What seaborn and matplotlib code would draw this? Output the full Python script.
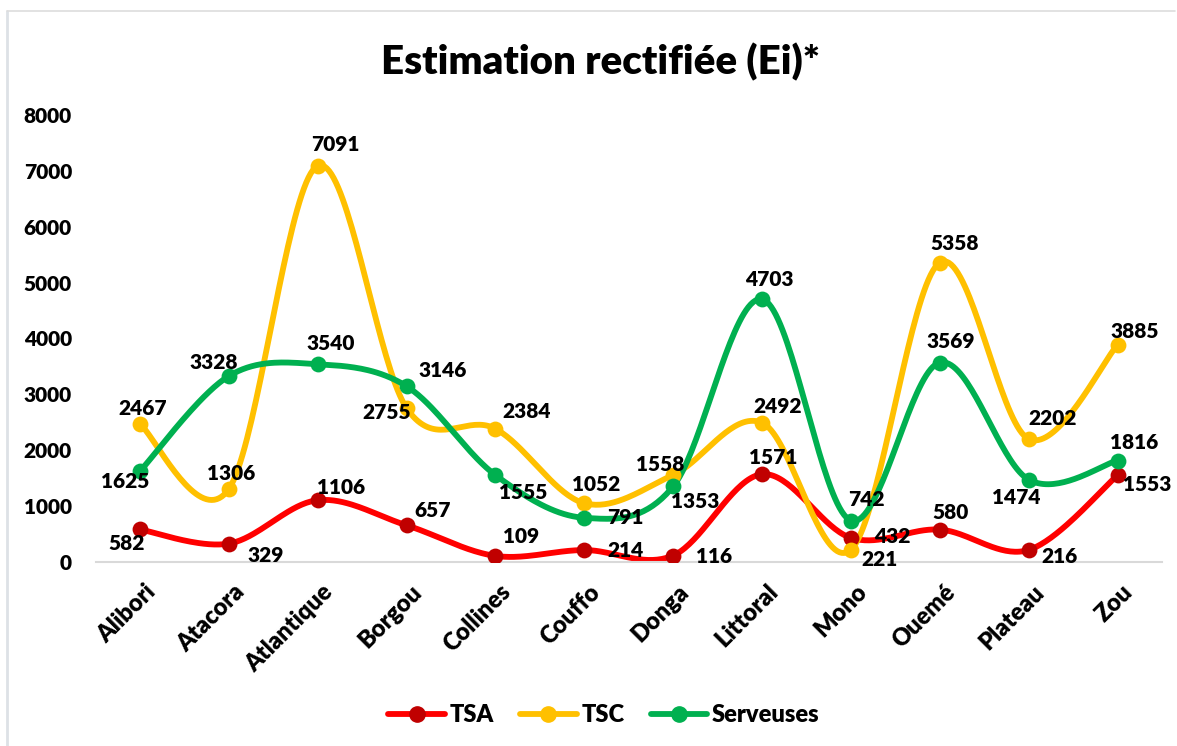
import numpy as np
import pandas as pd
import matplotlib
matplotlib.use("Agg")
import matplotlib.pyplot as plt
import matplotlib.transforms as mtransforms
from matplotlib.lines import Line2D
import seaborn as sns

# data
departements = ["Alibori", "Atacora", "Atlantique", "Borgou", "Collines", "Couffo",
                "Donga", "Littoral", "Mono", "Ouemé", "Plateau", "Zou"]
tsa = [582, 329, 1106, 657, 109, 214, 116, 1571, 432, 580, 216, 1553]
tsc = [2467, 1306, 7091, 2755, 2384, 1052, 1558, 2492, 221, 5358, 2202, 3885]
serveuses = [1625, 3328, 3540, 3146, 1555, 791, 1353, 4703, 742, 3569, 1474, 1816]

series = {"TSA": tsa, "TSC": tsc, "Serveuses": serveuses}
line_colors = {"TSA": "#FF0000", "TSC": "#FFC000", "Serveuses": "#00B050"}
marker_colors = {"TSA": "#C00000", "TSC": "#FFC000", "Serveuses": "#00B050"}

# label offsets in pixels (dx, dy), one per point
label_offsets = {
    "TSA": [(-13, -14), (37, -12), (23, 13), (26, 15), (26, 19), (41, 0),
            (41, -1), (11, 17), (41, 1), (11, 17), (31, -7), (30, -9)],
    "TSC": [(3, 16), (2, 16), (18, 21), (-20, -4), (31, 17), (12, 19),
            (-13, 10), (16, 16), (29, -10), (15, 19), (24, 20), (17, 13)],
    "Serveuses": [(-15, -10), (-15, 14), (13, 21), (36, 16), (28, -17), (41, 0),
                  (22, -15), (7, 20), (15, 21), (11, 21), (-12, -18), (17, 18)],
}

WEIGHT = "heavy"


def smooth_curve(y, steps=40):
    """Excel-like smoothed line (cubic Bezier, Catmull-Rom control points)."""
    y = np.asarray(y, dtype=float)
    x = np.arange(len(y), dtype=float)
    pts = np.column_stack([x, y])
    ext = np.vstack([pts[0], pts, pts[-1]])
    out = []
    for i in range(len(pts) - 1):
        p0, p1, p2, p3 = ext[i], ext[i + 1], ext[i + 2], ext[i + 3]
        c1 = p1 + (p2 - p0) / 6.0
        c2 = p2 - (p3 - p1) / 6.0
        t = np.linspace(0, 1, steps)[:, None]
        seg = ((1 - t) ** 3) * p1 + 3 * ((1 - t) ** 2) * t * c1 + 3 * (1 - t) * t ** 2 * c2 + t ** 3 * p2
        out.append(seg if i == 0 else seg[1:])
    out = np.vstack(out)
    return out[:, 0], out[:, 1]


sns.set_theme(style="white")
plt.rcParams["font.family"] = ["Lato", "DejaVu Sans"]
plt.rcParams["font.weight"] = WEIGHT
plt.rcParams["text.color"] = "black"
plt.rcParams["xtick.color"] = "black"
plt.rcParams["ytick.color"] = "black"

fig = plt.figure(figsize=(11.77, 7.46), dpi=100)
ax = fig.add_axes([95.5 / 1177, 184 / 746, (1162 - 95.5) / 1177, (562 - 115) / 746])

x_pos = np.arange(len(departements))
rows = []
for name, vals in series.items():
    sx, sy = smooth_curve(vals)
    ax.plot(sx, sy, color=line_colors[name], lw=4.2, solid_capstyle="round", zorder=2)
    for i, (d, v) in enumerate(zip(departements, vals)):
        rows.append({"dep": d, "x": i, "val": v, "serie": name})
df = pd.DataFrame(rows)

for name in series:
    sub = df[df["serie"] == name]
    sns.scatterplot(data=sub, x="x", y="val", ax=ax, color=marker_colors[name],
                    s=130, linewidth=0, zorder=3, legend=False)

for name, vals in series.items():
    for i, v in enumerate(vals):
        dx, dy = label_offsets[name][i]
        ax.annotate(str(v), (i, v), xytext=(dx, dy), textcoords="offset pixels",
                    ha="center", va="center", fontsize=15, fontweight=WEIGHT,
                    color="black", zorder=4, annotation_clip=False)

ax.set_xlim(-0.5, len(departements) - 0.5)
ax.set_ylim(0, 8000)
ax.set_yticks(range(0, 8001, 1000))
ax.set_yticklabels([str(v) for v in range(0, 8001, 1000)], fontsize=15, fontweight=WEIGHT)
ax.tick_params(axis="y", length=0, pad=17)
ax.set_xticks(x_pos)
ax.set_xticklabels(departements, rotation=45, ha="right", va="center",
                   rotation_mode="anchor", fontsize=17, fontweight=WEIGHT)
ax.tick_params(axis="x", which="major", length=0, pad=19)
ax.set_xticks(np.arange(-0.5, len(departements), 1.0), minor=True)
ax.tick_params(axis="x", which="minor", length=6, width=1.2, color="#D9D9D9", direction="out")
offset = mtransforms.ScaledTranslation(12 / 100, 0, fig.dpi_scale_trans)
for lab in ax.get_xticklabels():
    lab.set_transform(lab.get_transform() + offset)

for s in ["top", "right", "left"]:
    ax.spines[s].set_visible(False)
ax.spines["bottom"].set_color("#D9D9D9")
ax.spines["bottom"].set_linewidth(1.5)
ax.set_xlabel("")
ax.set_ylabel("")
ax.grid(False)

fig.text(0.51, 1 - 62 / 746, "Estimation rectifiée (Ei)*", ha="center", va="center",
         fontsize=29, fontweight=WEIGHT)

handles = [Line2D([0], [0], color=line_colors[n], lw=4.2, marker="o", markersize=11,
                  markerfacecolor=marker_colors[n], markeredgecolor=marker_colors[n])
           for n in series]
fig.legend(handles, list(series.keys()), loc="center", bbox_to_anchor=(604 / 1177, 31 / 746),
           ncol=3, frameon=False, handlelength=2.4, handletextpad=0.2,
           columnspacing=1.1, numpoints=1, prop={"weight": WEIGHT, "size": 17})

# chart area border (top and left only visible)
fig.add_artist(Line2D([7 / 1177, 7 / 1177], [0, 1 - 11 / 746], color="#DDE1E6", lw=2,
                      transform=fig.transFigure))
fig.add_artist(Line2D([7 / 1177, 1175 / 1177], [1 - 11 / 746, 1 - 11 / 746], color="#DDDDDD",
                      lw=1.2, transform=fig.transFigure))

fig.savefig("out.png", dpi=100)
